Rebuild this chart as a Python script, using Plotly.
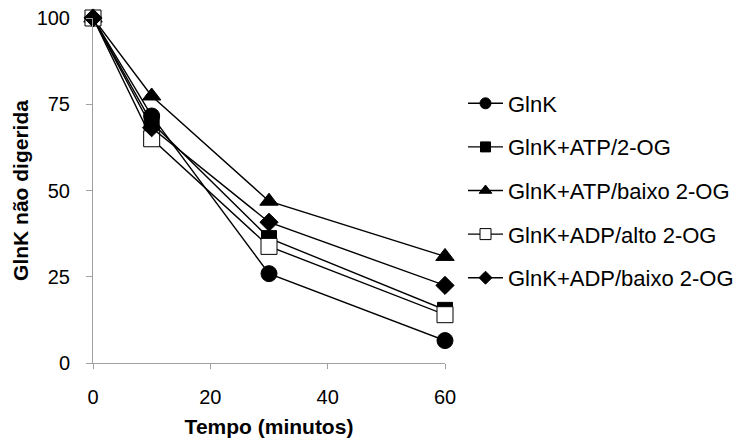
import plotly.graph_objects as go

tempo = [0, 10, 30, 60]
series_names = ["GlnK", "GlnK+ATP/2-OG", "GlnK+ATP/baixo 2-OG", "GlnK+ADP/alto 2-OG", "GlnK+ADP/baixo 2-OG"]
glnk = [100, 71.6, 25.9, 6.5]
atp_2og = [100, 69.7, 36.2, 15.4]
atp_baixo = [100, 77.4, 46.9, 30.9]
adp_alto = [100, 65.0, 33.8, 14.0]
adp_baixo = [100, 68.2, 40.8, 22.5]
x_ticks = [0, 20, 40, 60]
y_ticks = [0, 25, 50, 75, 100]

values = [glnk, atp_2og, atp_baixo, adp_alto, adp_baixo]
symbols = ["circle", "square", "triangle-up", "square", "diamond"]
fills = ["black", "black", "black", "white", "black"]
sizes = [16, 15, 16, 16, 14]
legend_sizes = [11, 10, 11, 11, 10]

fig = go.Figure()
for i, (name, vals, sym, fc, sz) in enumerate(zip(series_names, values, symbols, fills, sizes)):
    fig.add_trace(go.Scatter(
        x=tempo, y=vals, name=name, mode="lines+markers",
        line=dict(color="black", width=1.4),
        marker=dict(symbol=sym, size=sz, color=fc, line=dict(color="black", width=1)),
        cliponaxis=False, showlegend=False,
    ))
# legend entries (smaller markers, like the reference legend)
for i, (name, sym, fc, lsz) in enumerate(zip(series_names, symbols, fills, legend_sizes)):
    fig.add_trace(go.Scatter(
        x=[None], y=[None], name=name, mode="lines+markers",
        line=dict(color="black", width=1.4),
        marker=dict(symbol=sym, size=lsz, color=fc, line=dict(color="black", width=1)),
        legendgroup=f"g{i}", showlegend=True,
    ))

fig.update_layout(
    width=738, height=441,
    margin=dict(l=93, r=293, t=18, b=78, autoexpand=False),
    paper_bgcolor="white", plot_bgcolor="white",
    font=dict(family="Liberation Sans, Arial, sans-serif", size=20, color="black"),
    showlegend=True,
    legend=dict(xref="container", yref="container", x=463/738, y=1 - 190.5/441,
                xanchor="left", yanchor="middle",
                tracegroupgap=12, itemsizing="trace", itemwidth=35,
                font=dict(size=22), bgcolor="rgba(0,0,0,0)"),
    xaxis=dict(range=[0, 60], tickvals=x_ticks, showgrid=False, zeroline=False,
               showline=True, linecolor="#a0a0a0", linewidth=1, automargin=False,
               ticks="outside", ticklen=5, tickcolor="#a0a0a0",
               ticklabelstandoff=11, tickfont=dict(size=20),
               title=dict(text="<b>Tempo (minutos)</b>", font=dict(size=21), standoff=12)),
    yaxis=dict(range=[0, 100], tickvals=y_ticks, showgrid=False, zeroline=False,
               showline=True, linecolor="#a0a0a0", linewidth=1, automargin=False,
               ticks="outside", ticklen=6, tickcolor="#a0a0a0",
               ticklabelstandoff=12, tickfont=dict(size=20),
               title=dict(text="<b>GlnK não digerida</b>", font=dict(size=21), standoff=2)),
)

fig.write_html("out.html")
